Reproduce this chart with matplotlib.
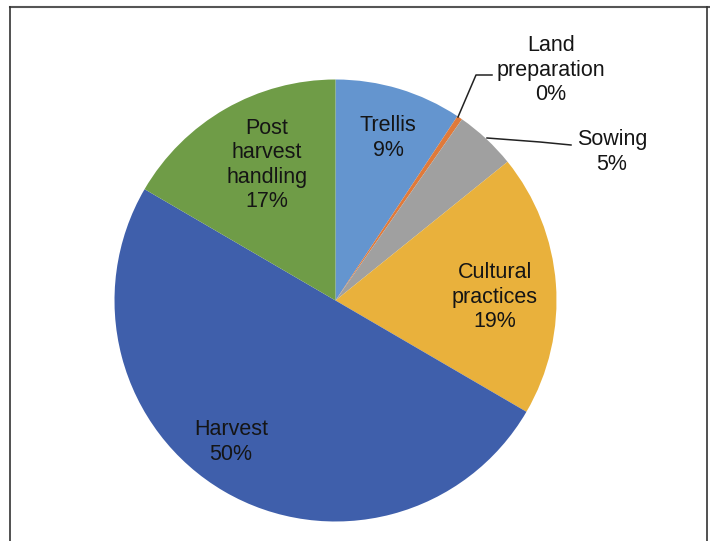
import matplotlib.pyplot as plt
from matplotlib.lines import Line2D

plt.rcParams['font.family'] = ['Liberation Sans', 'DejaVu Sans']

# data (clockwise from 12 o'clock)
categories = ['Trellis', 'Land\npreparation', 'Sowing', 'Cultural\npractices', 'Harvest', 'Post\nharvest\nhandling']
shares = [9.3, 0.4, 4.5, 19.2, 50.0, 16.6]
pct_labels = ['9%', '0%', '5%', '19%', '50%', '17%']
colors = ['#6495cf', '#e07a3a', '#a0a0a0', '#e9b13c', '#3f5fab', '#6f9c47']

W, H = 710, 541
cx, cy, r = 335.5, 300.5, 221.0

fig = plt.figure(figsize=(W / 100, H / 100), dpi=100)
ax = fig.add_axes([0, 0, 1, 1])

ax.pie(shares, colors=colors, startangle=90, counterclock=False,
       radius=1, center=(0, 0), wedgeprops=dict(linewidth=0))

# pie() resets the limits, so set them afterwards
ax.set_aspect('equal')
ax.set_xlim(-cx / r, (W - cx) / r)
ax.set_ylim((cy - H) / r, cy / r)
ax.axis('off')

def px(x, y):
    return ((x - cx) / r, (cy - y) / r)

# label centres in pixel space
label_pos = [(388, 138), (551, 70), (612, 152), (495, 297), (231, 442), (267, 165)]
for name, pct, pos in zip(categories, pct_labels, label_pos):
    x, y = px(*pos)
    ax.text(x, y, name + '\n' + pct, ha='center', va='center', fontsize=15.5,
            color='#151515', linespacing=1.2)

# leader lines
lx, ly = zip(*[px(458, 117), px(476, 75), px(492, 75)])
ax.plot(lx, ly, color='#222222', lw=1.1)
sx, sy = zip(*[px(487, 138), px(540, 142), px(571, 145)])
ax.plot(sx, sy, color='#222222', lw=1.1)

# frame
fig.add_artist(Line2D([10 / W, 1], [1 - 7 / H, 1 - 7 / H], color='#555555', lw=1.5))
fig.add_artist(Line2D([10 / W, 10 / W], [1 - 7 / H, 0], color='#333333', lw=1.2))
fig.add_artist(Line2D([707 / W, 707 / W], [1 - 7 / H, 0], color='#333333', lw=1.2))

fig.savefig('out.png', dpi=100)
